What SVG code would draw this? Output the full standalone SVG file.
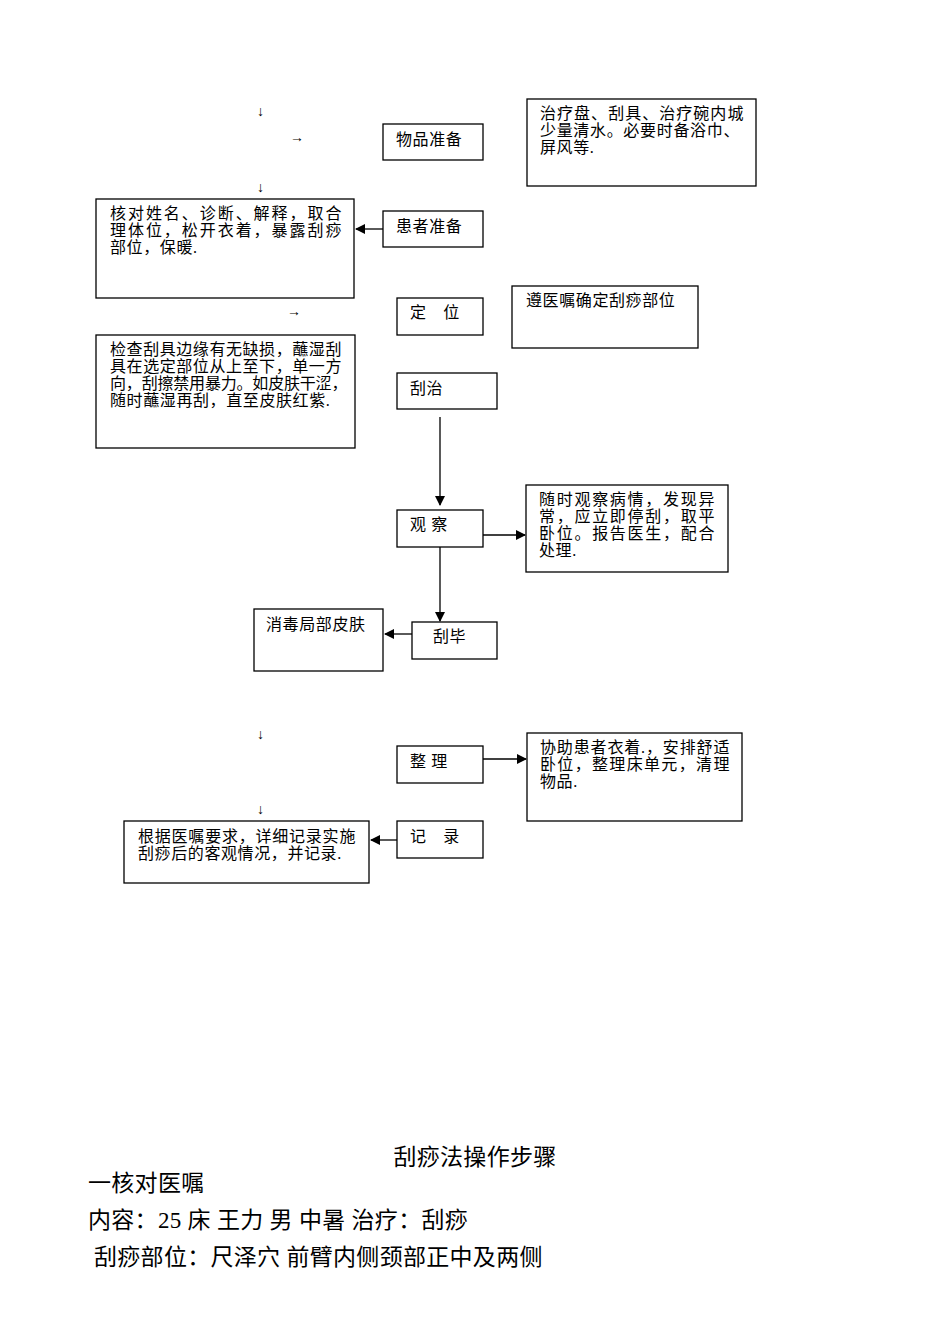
<svg xmlns="http://www.w3.org/2000/svg" width="950" height="1344" viewBox="0 0 950 1344">
<style>
rect{fill:#fff;stroke:#000;stroke-width:1.3}
text{font-family:"Liberation Serif","Noto Sans CJK SC",serif;font-size:16px;letter-spacing:0.6px;fill:#000}
.b{font-size:23px;letter-spacing:0.3px}
.g{font-size:14px;letter-spacing:0}
.c{stroke:#000;stroke-width:1.3;fill:none}
</style>
<defs><marker id="a" markerWidth="10" markerHeight="10" refX="9" refY="5" orient="auto" markerUnits="userSpaceOnUse"><path d="M0,0L10,5L0,10z" fill="#000"/></marker></defs>
<rect width="950" height="1344" style="fill:#fff;stroke:none"/>
<g id="connectors">
<line class="c" x1="383" y1="229" x2="356" y2="229" marker-end="url(#a)"/>
<line class="c" x1="440" y1="417" x2="440" y2="505" marker-end="url(#a)"/>
<line class="c" x1="483" y1="535" x2="525" y2="535" marker-end="url(#a)"/>
<line class="c" x1="440" y1="547" x2="440" y2="621" marker-end="url(#a)"/>
<line class="c" x1="412" y1="634" x2="385" y2="634" marker-end="url(#a)"/>
<line class="c" x1="483" y1="759" x2="526" y2="759" marker-end="url(#a)"/>
<line class="c" x1="397" y1="840" x2="371" y2="840" marker-end="url(#a)"/>
<text class="g" x="257" y="116">↓</text>
<text class="g" x="257" y="192">↓</text>
<text class="g" x="257" y="739">↓</text>
<text class="g" x="257" y="814">↓</text>
<text class="g" x="290" y="142">→</text>
<text class="g" x="287" y="316">→</text>
</g>
<g id="n1"><rect x="383" y="124" width="100" height="36"/><text x="396" y="145">物品准备</text></g>
<g id="n2"><rect x="527" y="99" width="229" height="87"/><text x="540" y="119" textLength="204">治疗盘、刮具、治疗碗内城</text><text x="540" y="136" textLength="200">少量清水。必要时备浴巾、</text><text x="540" y="153">屏风等.</text></g>
<g id="n3"><rect x="96" y="199" width="258" height="99"/><text x="110" y="219" textLength="232">核对姓名、诊断、解释，取合</text><text x="110" y="236" textLength="232">理体位，松开衣着，暴露刮痧</text><text x="110" y="253">部位，保暖.</text></g>
<g id="n4"><rect x="383" y="211" width="100" height="36"/><text x="396" y="232">患者准备</text></g>
<g id="n5"><rect x="397" y="298" width="86" height="37"/><text x="410" y="318">定　位</text></g>
<g id="n6"><rect x="512" y="286" width="186" height="62"/><text x="526" y="306">遵医嘱确定刮痧部位</text></g>
<g id="n7"><rect x="96" y="335" width="259" height="113"/><text x="110" y="355" textLength="232">检查刮具边缘有无缺损，蘸湿刮</text><text x="110" y="372" textLength="232">具在选定部位从上至下，单一方</text><text x="110" y="389" textLength="238">向，刮擦禁用暴力。如皮肤干涩，</text><text x="110" y="406">随时蘸湿再刮，直至皮肤红紫.</text></g>
<g id="n8"><rect x="397" y="373" width="100" height="36"/><text x="410" y="394">刮治</text></g>
<g id="n9"><rect x="397" y="510" width="86" height="37"/><text x="410" y="530">观 察</text></g>
<g id="n10"><rect x="526" y="485" width="202" height="87"/><text x="539" y="505" textLength="176">随时观察病情，发现异</text><text x="539" y="522" textLength="176">常，应立即停刮，取平</text><text x="539" y="539" textLength="176">卧位。报告医生，配合</text><text x="539" y="556">处理.</text></g>
<g id="n11"><rect x="412" y="622" width="85" height="37"/><text x="433" y="642">刮毕</text></g>
<g id="n12"><rect x="254" y="609" width="129" height="62"/><text x="266" y="630">消毒局部皮肤</text></g>
<g id="n13"><rect x="397" y="746" width="86" height="37"/><text x="410" y="767">整 理</text></g>
<g id="n14"><rect x="527" y="733" width="215" height="88"/><text x="540" y="753" textLength="190">协助患者衣着.，安排舒适</text><text x="540" y="770" textLength="190">卧位，整理床单元，清理</text><text x="540" y="787">物品.</text></g>
<g id="n15"><rect x="397" y="821" width="86" height="37"/><text x="410" y="842">记　录</text></g>
<g id="n16"><rect x="124" y="821" width="245" height="62"/><text x="138" y="842" textLength="218">根据医嘱要求，详细记录实施</text><text x="138" y="859">刮痧后的客观情况，并记录.</text></g>
<text class="b" x="475" y="1165" text-anchor="middle">刮痧法操作步骤</text>
<text class="b" x="88" y="1191">一核对医嘱</text>
<text class="b" x="88" y="1228">内容：25 床 王力 男 中暑 治疗：刮痧</text>
<text class="b" x="94" y="1265">刮痧部位：尺泽穴  前臂内侧颈部正中及两侧</text>
</svg>
